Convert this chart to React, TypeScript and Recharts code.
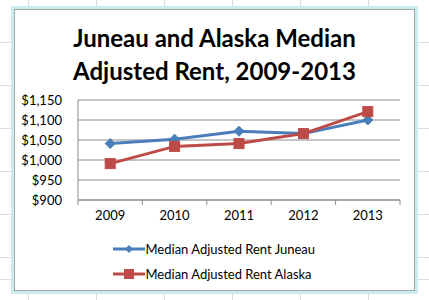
import React from "react";
import { LineChart, Line, XAxis, YAxis, CartesianGrid, Legend } from "recharts";

const YEARS = ["2009", "2010", "2011", "2012", "2013"];
const JUNEAU = [1041, 1052, 1072, 1066, 1100];
const ALASKA = [991, 1034, 1041, 1066, 1121];
const Y_TICKS = [900, 950, 1000, 1050, 1100, 1150];
const SERIES_ORDER = ["juneau", "alaska"];

const BLUE = "#4A7EBB";
const RED = "#BE4B48";
const GRID = "#8C8C8C";
const FONT = "Lato, 'Open Sans', sans-serif";

const data = YEARS.map((year, i) => ({ year, juneau: JUNEAU[i], alaska: ALASKA[i] }));

const fmtDollar = (v: number) => "$" + v.toLocaleString("en-US");

// diamond marker for Juneau
const Diamond = ({ cx, cy }: any) => (
  <polygon
    points={`${cx},${cy - 5} ${cx + 5},${cy} ${cx},${cy + 5} ${cx - 5},${cy}`}
    fill={BLUE}
    stroke={BLUE}
  />
);

// square marker for Alaska
const Square = ({ cx, cy }: any) => (
  <rect x={cx - 5} y={cy - 5} width={10} height={10} fill={RED} stroke={RED} />
);

// year label with Excel-style tick marks at the band edges
const YearTick = (props: any) => {
  const { x, y, payload, index, visibleTicksCount, width } = props;
  const half = payload.offset ? payload.offset : width / visibleTicksCount / 2;
  const top = y - 11;
  return (
    <g>
      <line x1={x - half} x2={x - half} y1={top} y2={top + 5} stroke={GRID} />
      {index === visibleTicksCount - 1 && (
        <line x1={x + half} x2={x + half} y1={top} y2={top + 5} stroke={GRID} />
      )}
      <text x={x} y={y} dy="0.71em" textAnchor="middle" fill="#000" fontSize={13} fontFamily={FONT}>
        {payload.value}
      </text>
    </g>
  );
};

const LegendBox = ({ payload }: any) => {
  const items = [...payload].sort(
    (a: any, b: any) => SERIES_ORDER.indexOf(a.dataKey) - SERIES_ORDER.indexOf(b.dataKey)
  );
  return (
    <div style={{ display: "flex", flexDirection: "column", alignItems: "center", fontFamily: FONT }}>
      {items.map((p: any) => (
        <div key={p.value} style={{ display: "flex", alignItems: "center", height: 25, width: 204 }}>
          <svg width={32} height={12} style={{ marginRight: 1 }}>
            <line x1={0} x2={32} y1={6} y2={6} stroke={p.color} strokeWidth={3} />
            {p.dataKey === "juneau" ? (
              <polygon points="16,2 20,6 16,10 12,6" fill={p.color} />
            ) : (
              <rect x={11} y={1} width={10} height={10} fill={p.color} />
            )}
          </svg>
          <span style={{ fontSize: 13, color: "#000", whiteSpace: "nowrap" }}>{p.value}</span>
        </div>
      ))}
    </div>
  );
};

export default function App() {
  return (
    <div
      style={{
        position: "absolute",
        left: 0,
        top: 0,
        width: 429,
        height: 300,
        background: "#fff",
        backgroundImage:
          "repeating-linear-gradient(90deg, transparent 0 28px, #dcdcdc 28px 29px, transparent 29px 68px), repeating-linear-gradient(0deg, transparent 0 20.5px, #dcdcdc 20.5px 21.5px)",
        overflow: "hidden",
      }}
    >
      <div
        style={{
          position: "absolute",
          left: 11,
          top: 6,
          width: 401,
          height: 282,
          border: "3px solid #CBECEE",
          background: "#fff",
        }}
      >
        <div style={{ position: "absolute", inset: 0, border: "1px solid #A6A6A6" }} />
      </div>
      <div
        style={{
          position: "absolute",
          left: 0,
          top: 21,
          width: 429,
          textAlign: "center",
          fontFamily: FONT,
          fontWeight: 700,
          fontSize: 24,
          lineHeight: "33px",
          color: "#000",
        }}
      >
        <div>Juneau and Alaska Median</div>
        <div>Adjusted Rent, 2009-2013</div>
      </div>
      <div style={{ position: "absolute", left: 0, top: 0 }}>
        <LineChart width={429} height={300} data={data} margin={{ top: 100, right: 29, bottom: 70, left: 10 }}>
          <CartesianGrid vertical={false} stroke={GRID} />
          <XAxis
            dataKey="year"
            scale="band"
            height={30}
            stroke={GRID}
            tickLine={false}
            tickSize={5}
            tickMargin={6}
            tick={<YearTick />}
          />
          <YAxis
            domain={[900, 1150]}
            ticks={Y_TICKS}
            interval={0}
            width={68}
            stroke={GRID}
            tickLine={false}
            tickMargin={10}
            tickFormatter={fmtDollar}
            tick={{ fill: "#000", fontSize: 13, fontFamily: FONT }}
          />
          <Legend
            layout="vertical"
            align="center"
            verticalAlign="middle"
            wrapperStyle={{ top: 236, left: 0, width: 429 }}
            content={<LegendBox />}
          />
          <Line
            isAnimationActive={false}
            dataKey="juneau"
            name="Median Adjusted Rent Juneau"
            stroke={BLUE}
            strokeWidth={3}
            dot={<Diamond />}
          />
          <Line
            isAnimationActive={false}
            dataKey="alaska"
            name="Median Adjusted Rent Alaska"
            stroke={RED}
            strokeWidth={3}
            dot={<Square />}
          />
        </LineChart>
      </div>
    </div>
  );
}
